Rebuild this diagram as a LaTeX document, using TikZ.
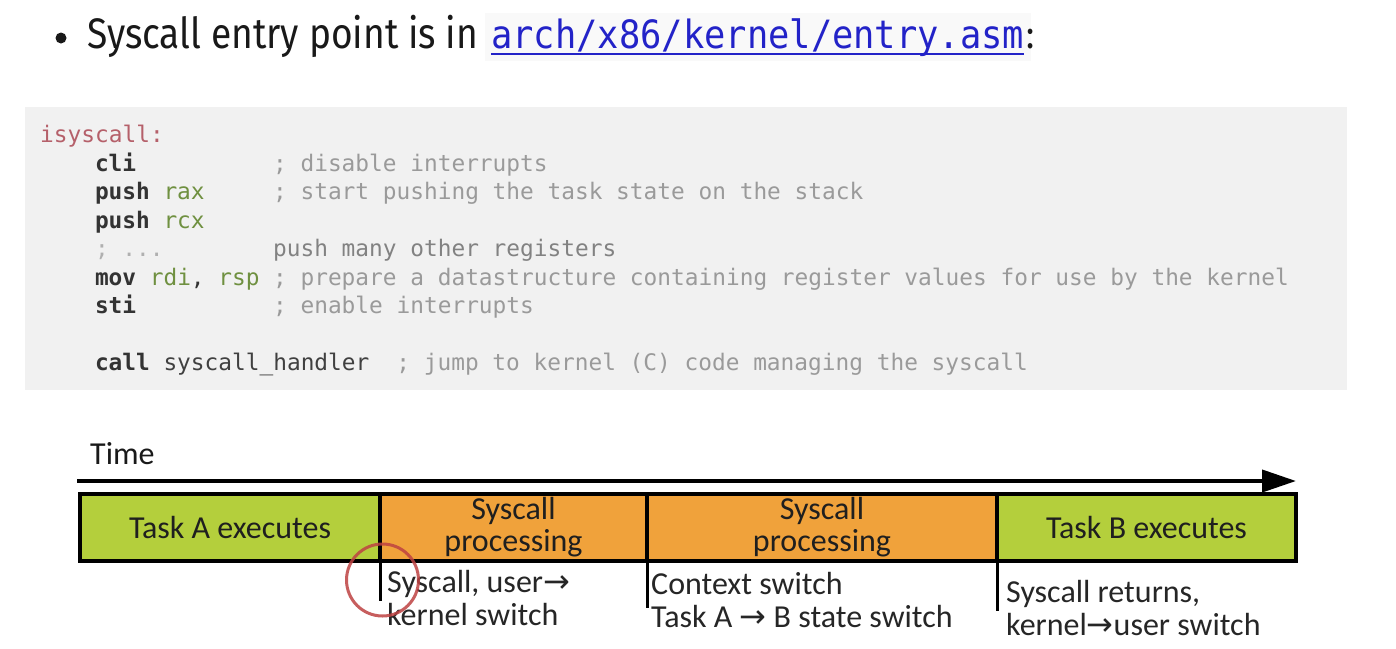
\documentclass[tikz,border=0pt]{standalone}
\usepackage{fontspec}
\usetikzlibrary{arrows.meta}
\setmainfont{Carlito}
\newfontfamily\titlefont{Fira Sans}
\newfontfamily\codefont{DejaVu Sans Mono}
\newfontfamily\arrfont{DejaVu Sans}
\newcommand\cf{\codefont\fontsize{22.8}{27}\selectfont}
\newcommand\myarrow{{\arrfont →}}
\definecolor{codebg}{RGB}{241,241,241}
\definecolor{kwc}{RGB}{51,51,51}
\definecolor{regc}{RGB}{111,144,64}
\definecolor{cmtc}{RGB}{154,154,154}
\definecolor{cmtb}{RGB}{130,130,130}
\definecolor{lblc}{RGB}{181,96,106}
\definecolor{dotsc}{RGB}{176,176,176}
\definecolor{linkblue}{RGB}{35,35,200}
\definecolor{linkbg}{RGB}{249,249,249}
\definecolor{taskgreen}{RGB}{180,207,60}
\definecolor{sysorange}{RGB}{240,162,59}
\definecolor{annred}{RGB}{190,66,66}
\begin{document}
\begin{tikzpicture}[x=1pt,y=-1pt,
  code/.style={anchor=base west, inner sep=0, font=\cf},
  kw/.style={code, text=kwc, font={\cf\bfseries}},
  reg/.style={code, text=regc},
  cmt/.style={code, text=cmtc},
  seg/.style={draw=black, line width=3.5pt, minimum height=67pt, inner sep=0, outer sep=0,
    font=\fontsize{32}{32}\selectfont, align=center, text=black!88},
  tick/.style={line width=3pt, black},
  lab/.style={anchor=north west, align=left, inner sep=0, text=black!85, font=\fontsize{32}{33}\selectfont}]
\useasboundingbox[fill=white] (0,0) rectangle (1396,648);
% title line
\node[circle, fill=black!90, inner sep=0, minimum size=11pt] (bullet) at (61,38) {};
\node[anchor=base west, inner sep=0, text=black!90] (title) at (87,48)
  {\scalebox{1}[1.15]{\resizebox{391pt}{!}{\titlefont\fontsize{34}{40}\selectfont Syscall entry point is in}}};
\node[fill=linkbg, anchor=north west, minimum width=546pt, minimum height=48pt, inner sep=0] (linkbox) at (485,13) {};
\node[anchor=base west, inner sep=0, text=linkblue] (link) at (491,48)
  {\scalebox{1}[1.1]{\resizebox{533pt}{!}{\codefont\fontsize{34}{40}\selectfont arch/x86/kernel/entry.asm}}};
\draw[linkblue, line width=2.5pt] ([yshift=-6pt]link.base west) -- ([yshift=-6pt]link.base east);
\node[anchor=base west, inner sep=0, text=black!90] (colon) at (1026,48) {\scalebox{1}[1.15]{\titlefont\fontsize{34}{40}\selectfont :}};
% code block
\node[fill=codebg, anchor=north west, minimum width=1322pt, minimum height=283pt, inner sep=0] (codebox) at (25,107) {};
\node[code, text=lblc] (c0) at (40,142) {isyscall:};
\node[kw] (c1k) at (94.8,171) {cli};
\node[cmt] (c1c) at (272.9,171) {; disable interrupts};
\node[kw] (c2k) at (94.8,199.5) {push};
\node[reg] (c2r) at (163.3,199.5) {rax};
\node[cmt] (c2c) at (272.9,199.5) {; start pushing the task state on the stack};
\node[kw] (c3k) at (94.8,228) {push};
\node[reg] (c3r) at (163.3,228) {rcx};
\node[code, text=dotsc] (c4d) at (94.8,256.5) {; ...};
\node[code, text=cmtb] (c4c) at (272.9,256.5) {push many other registers};
\node[kw] (c5k) at (94.8,285) {mov};
\node[reg] (c5r) at (149.6,285) {rdi};
\node[code, text=kwc] (c5p) at (190.7,285) {,};
\node[reg] (c5s) at (218.1,285) {rsp};
\node[cmt] (c5c) at (272.9,285) {; prepare a datastructure containing register values for use by the kernel};
\node[kw] (c6k) at (94.8,313.5) {sti};
\node[cmt] (c6c) at (272.9,313.5) {; enable interrupts};
\node[kw] (c8k) at (94.8,370.5) {call};
\node[code, text=black!75] (c8f) at (163.3,370.5) {syscall\_handler};
\node[cmt] (c8c) at (396.2,370.5) {; jump to kernel (C) code managing the syscall};
% timeline
\node[anchor=base west, inner sep=0, text=black!90, font=\fontsize{32}{32}\selectfont] (time) at (90,464) {Time};
\coordinate (ts) at (77,481);
\coordinate (te) at (1296,481);
\draw[line width=4pt, -{Triangle[length=34pt,width=22pt]}] (ts) -- (te);
\node[seg, fill=taskgreen, minimum width=300pt, anchor=north west] (ta) at (80,494) {Task A executes};
\node[seg, fill=sysorange, minimum width=267pt, anchor=north west] (s1) at (380,494) {Syscall\\processing};
\node[seg, fill=sysorange, minimum width=350pt, anchor=north west] (s2) at (647,494) {Syscall\\processing};
\node[seg, fill=taskgreen, minimum width=299pt, anchor=north west] (tb) at (997,494) {Task B executes};
\coordinate (k1) at (380,601);
\coordinate (k2) at (647,608);
\coordinate (k3) at (997,611);
\draw[tick] (s1.south west) -- (k1);
\draw[tick] (s2.south west) -- (k2);
\draw[tick] (tb.south west) -- (k3);
\node[lab] (l1) at (387,570) {Syscall, user\myarrow\\kernel switch};
\node[lab] (l2) at (651,572) {Context switch\\Task A \myarrow{} B state switch};
\node[lab] (l3) at (1006,580) {Syscall returns,\\kernel\myarrow user switch};
\node[circle, draw=annred, line width=3pt, minimum size=72pt, inner sep=0, opacity=0.85] (mark) at (382.5,580) {};
\end{tikzpicture}
\end{document}
